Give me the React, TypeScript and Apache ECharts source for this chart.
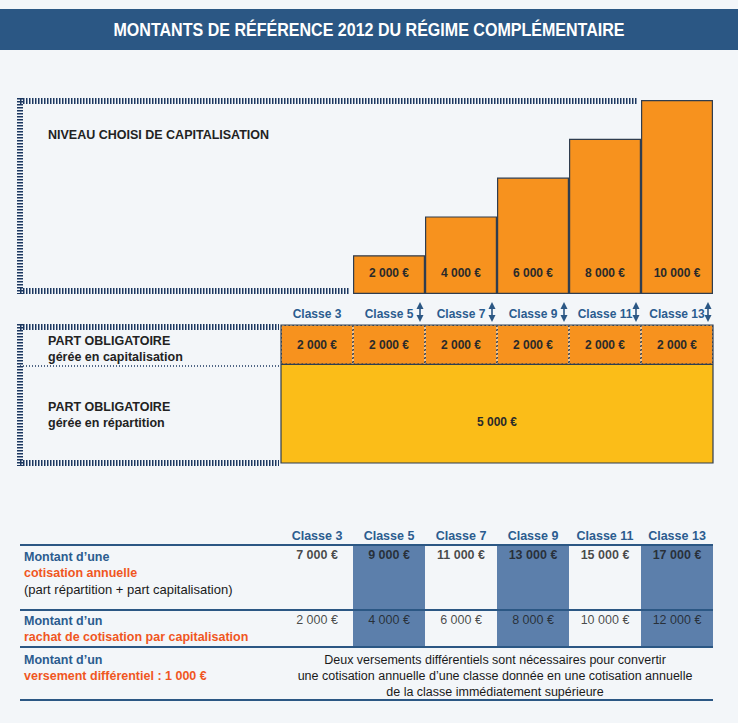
import React, { useEffect, useRef } from "react";
import * as echarts from "echarts";

const classes = ["Classe 3", "Classe 5", "Classe 7", "Classe 9", "Classe 11", "Classe 13"];
const niveauCapitalisation: (number | string)[] = ["-", 2000, 4000, 6000, 8000, 10000];
const partCapitalisation = [2000, 2000, 2000, 2000, 2000, 2000];
const partRepartition = [5000, 5000, 5000, 5000, 5000, 5000];
const cotisationAnnuelle = [7000, 9000, 11000, 13000, 15000, 17000];
const rachatCapitalisation = [2000, 4000, 6000, 8000, 10000, 12000];
const shadedColumns = [0, 1, 0, 1, 0, 1];
const arrowColumns = [false, true, true, true, true, true];

const ROW1_Y = 10;
const ROW2_Y = 75;

const BLUE = "#2b5784";
const TEXTBLUE = "#2b5c8f";
const ORANGE_TXT = "#f0561f";
const BAR_ORANGE = "#f7921e";
const YELLOW = "#fbbd18";
const SHADE = "#5c7fab";
const HATCH = "#1b3760";
const FONT = "Liberation Sans, Arial, sans-serif";

const fmt = (v: number) => String(v).replace(/\B(?=(\d{3})+(?!\d))/g, " ") + " €";

function hatch(x1: number, y1: number, x2: number, y2: number) {
  return {
    type: "line",
    z: 50,
    shape: { x1, y1, x2, y2 },
    style: { stroke: HATCH, lineWidth: 6, lineDash: [1.5, 1.5] },
  };
}
function hline(y: number, x1: number, x2: number) {
  return { type: "line", z: 60, shape: { x1, y1: y, x2, y2: y }, style: { stroke: BLUE, lineWidth: 2 } };
}
function txt(x: number, y: number, text: string, color: string, weight: string, size = 12, align = "left") {
  return {
    type: "text",
    z: 60,
    x,
    y,
    style: { text, fill: color, font: `${weight} ${size}px ${FONT}`, textAlign: align, textVerticalAlign: "middle" },
  };
}

export default function App() {
  const ref = useRef<HTMLDivElement>(null);
  useEffect(() => {
    const chart = echarts.init(ref.current!, undefined, { renderer: "svg" });
    const option: any = {
      animation: false,
      backgroundColor: "#f3f6f9",
      grid: [
        { left: 281, right: 25, top: 100, height: 194 },
        { left: 281, right: 25, top: 325, height: 138 },
        { left: 281, right: 25, top: 545, height: 102 },
      ],
      xAxis: [
        { type: "category", gridIndex: 0, data: classes, show: false },
        {
          type: "category",
          gridIndex: 1,
          data: classes,
          position: "top",
          axisLine: { show: false },
          axisTick: { show: false },
          axisLabel: { interval: 0, color: TEXTBLUE, fontWeight: "bold", fontSize: 12, fontFamily: FONT, margin: 5 },
        },
        {
          type: "category",
          gridIndex: 2,
          data: classes,
          position: "top",
          axisLine: { show: false },
          axisTick: { show: false },
          axisLabel: { interval: 0, color: TEXTBLUE, fontWeight: "bold", fontSize: 12.5, fontFamily: FONT, margin: 3 },
        },
      ],
      yAxis: [
        { type: "value", gridIndex: 0, min: 0, max: 10000, show: false },
        { type: "value", gridIndex: 1, min: 0, max: 7000, show: false },
        { type: "value", gridIndex: 2, min: 0, max: 1, show: false },
        { type: "value", gridIndex: 2, min: 0, max: 102, inverse: true, show: false },
      ],
      series: [
        {
          type: "bar",
          name: "Niveau choisi",
          xAxisIndex: 0,
          yAxisIndex: 0,
          data: niveauCapitalisation,
          barWidth: "100%",
          itemStyle: { color: BAR_ORANGE, borderColor: "#2f3d4f", borderWidth: 1.2 },
          label: {
            show: true,
            position: "insideBottom",
            distance: 15,
            formatter: (p: any) => fmt(p.value),
            color: "#2a2a2a",
            fontWeight: "bold",
            fontSize: 12,
            fontFamily: FONT,
          },
        },
        {
          type: "bar",
          name: "Répartition",
          xAxisIndex: 1,
          yAxisIndex: 1,
          stack: "m",
          data: partRepartition.map((v, i) =>
            i === 2
              ? {
                  value: v,
                  label: {
                    show: true,
                    position: ["100%", "58%"],
                    align: "center",
                    verticalAlign: "middle",
                    formatter: fmt(v),
                    color: "#2a2a2a",
                    fontWeight: "bold",
                    fontSize: 12,
                    fontFamily: FONT,
                  },
                }
              : v
          ),
          barWidth: "100%",
          itemStyle: { color: YELLOW },
        },
        {
          type: "bar",
          name: "Capitalisation",
          xAxisIndex: 1,
          yAxisIndex: 1,
          stack: "m",
          data: partCapitalisation,
          barWidth: "100%",
          itemStyle: { color: BAR_ORANGE, borderColor: "#2f3d4f", borderWidth: 1, borderType: [1.5, 2.5] },
          label: {
            show: true,
            position: "inside",
            formatter: (p: any) => fmt(p.value),
            color: "#2a2a2a",
            fontWeight: "bold",
            fontSize: 12,
            fontFamily: FONT,
          },
        },
        {
          type: "custom",
          xAxisIndex: 1,
          yAxisIndex: 1,
          clip: false,
          z: 10,
          data: arrowColumns.map((f, i) => (f ? [i, 7000] : null)).filter((d) => d),
          renderItem: (params: any, api: any) => {
            const c = api.coord([api.value(0), api.value(1)]);
            const w = api.size([1, 0])[0];
            const x = c[0] + w / 2 - 5;
            const yTop = c[1] - 23;
            const yBot = c[1] - 3;
            return {
              type: "group",
              children: [
                { type: "line", shape: { x1: x, y1: yTop + 5, x2: x, y2: yBot - 5 }, style: { stroke: BLUE, lineWidth: 1.6 } },
                { type: "polygon", shape: { points: [[x, yTop], [x - 3.5, yTop + 7], [x + 3.5, yTop + 7]] }, style: { fill: BLUE } },
                { type: "polygon", shape: { points: [[x, yBot], [x - 3.5, yBot - 7], [x + 3.5, yBot - 7]] }, style: { fill: BLUE } },
              ],
            };
          },
        },
        {
          type: "bar",
          name: "Ombrage",
          xAxisIndex: 2,
          yAxisIndex: 2,
          data: shadedColumns,
          barWidth: "100%",
          itemStyle: { color: SHADE },
          silent: true,
        },
        {
          type: "scatter",
          name: "Cotisation annuelle",
          xAxisIndex: 2,
          yAxisIndex: 3,
          symbolSize: 0,
          z: 20,
          data: cotisationAnnuelle.map((v, i) => [i, ROW1_Y, v]),
          label: {
            show: true,
            position: "inside",
            formatter: (p: any) => fmt(p.value[2]),
            color: "#1a1a1a",
            fontWeight: "bold",
            fontSize: 12.5,
            fontFamily: FONT,
          },
        },
        {
          type: "scatter",
          name: "Rachat",
          xAxisIndex: 2,
          yAxisIndex: 3,
          symbolSize: 0,
          z: 20,
          data: rachatCapitalisation.map((v, i) => [i, ROW2_Y, v]),
          label: {
            show: true,
            position: "inside",
            formatter: (p: any) => fmt(p.value[2]),
            color: "#1a1a1a",
            fontSize: 12.5,
            fontFamily: FONT,
          },
        },
      ],
      graphic: [
        { type: "rect", z: 40, shape: { x: 0, y: 9, width: 738, height: 41 }, style: { fill: BLUE } },
        {
          type: "text",
          z: 41,
          x: 369,
          y: 30,
          scaleX: 0.845,
          style: {
            text: "MONTANTS DE RÉFÉRENCE 2012 DU RÉGIME COMPLÉMENTAIRE",
            fill: "#ffffff",
            font: `bold 19px "Liberation Sans Narrow", "Liberation Sans", Arial, sans-serif`,
            textAlign: "center",
            textVerticalAlign: "middle",
          },
        },
        // top hatched frame
        hatch(20, 101, 637, 101),
        hatch(20, 98, 20, 294),
        hatch(20, 291, 350, 291),
        // middle hatched frame
        hatch(20, 327, 279, 327),
        hatch(20, 324, 20, 466),
        hatch(20, 463, 279, 463),
        {
          type: "line",
          z: 50,
          shape: { x1: 20, y1: 366, x2: 281, y2: 366 },
          style: { stroke: HATCH, lineWidth: 1.5, lineDash: [1, 2] },
        },
        // solid outlines of middle block
        {
          type: "rect",
          z: 60,
          shape: { x: 281, y: 325, width: 432, height: 138 },
          style: { fill: "none", stroke: "#2f3d4f", lineWidth: 1.2 },
        },
        {
          type: "line",
          z: 60,
          shape: { x1: 281, y1: 364.4, x2: 713, y2: 364.4 },
          style: { stroke: "#2f3d4f", lineWidth: 1.2 },
        },
        txt(48, 135, "NIVEAU CHOISI DE CAPITALISATION", "#222", "bold", 12.5),
        txt(48, 341, "PART OBLIGATOIRE", "#222", "bold", 12.5),
        txt(48, 357, "gérée en capitalisation", "#222", "bold", 12.5),
        txt(48, 407, "PART OBLIGATOIRE", "#222", "bold", 12.5),
        txt(48, 423, "gérée en répartition", "#222", "bold", 12.5),
        // table lines
        hline(545, 20, 713),
        hline(610, 20, 713),
        hline(647, 20, 713),
        hline(700, 20, 713),
        txt(24, 557, "Montant d’une", TEXTBLUE, "bold", 12.5),
        txt(24, 573, "cotisation annuelle", ORANGE_TXT, "bold", 12.5),
        txt(24, 589, "(part répartition + part capitalisation)", "#1a1a1a", "normal", 13),
        txt(24, 621, "Montant d’un", TEXTBLUE, "bold", 12.5),
        txt(24, 637, "rachat de cotisation par capitalisation", ORANGE_TXT, "bold", 12.5),
        txt(24, 660, "Montant d’un", TEXTBLUE, "bold", 12.5),
        txt(24, 676, "versement différentiel : 1 000 €", ORANGE_TXT, "bold", 12.5),
        txt(495, 660, "Deux versements différentiels sont nécessaires pour convertir", "#1a1a1a", "normal", 12.5, "center"),
        txt(495, 676, "une cotisation annuelle d’une classe donnée en une cotisation annuelle", "#1a1a1a", "normal", 12.5, "center"),
        txt(495, 692, "de la classe immédiatement supérieure", "#1a1a1a", "normal", 12.5, "center"),
      ],
    };
    chart.setOption(option);
    return () => chart.dispose();
  }, []);
  return (
    <div
      ref={ref}
      style={{ position: "fixed", left: 0, top: 0, width: 738, height: 723 }}
    />
  );
}
